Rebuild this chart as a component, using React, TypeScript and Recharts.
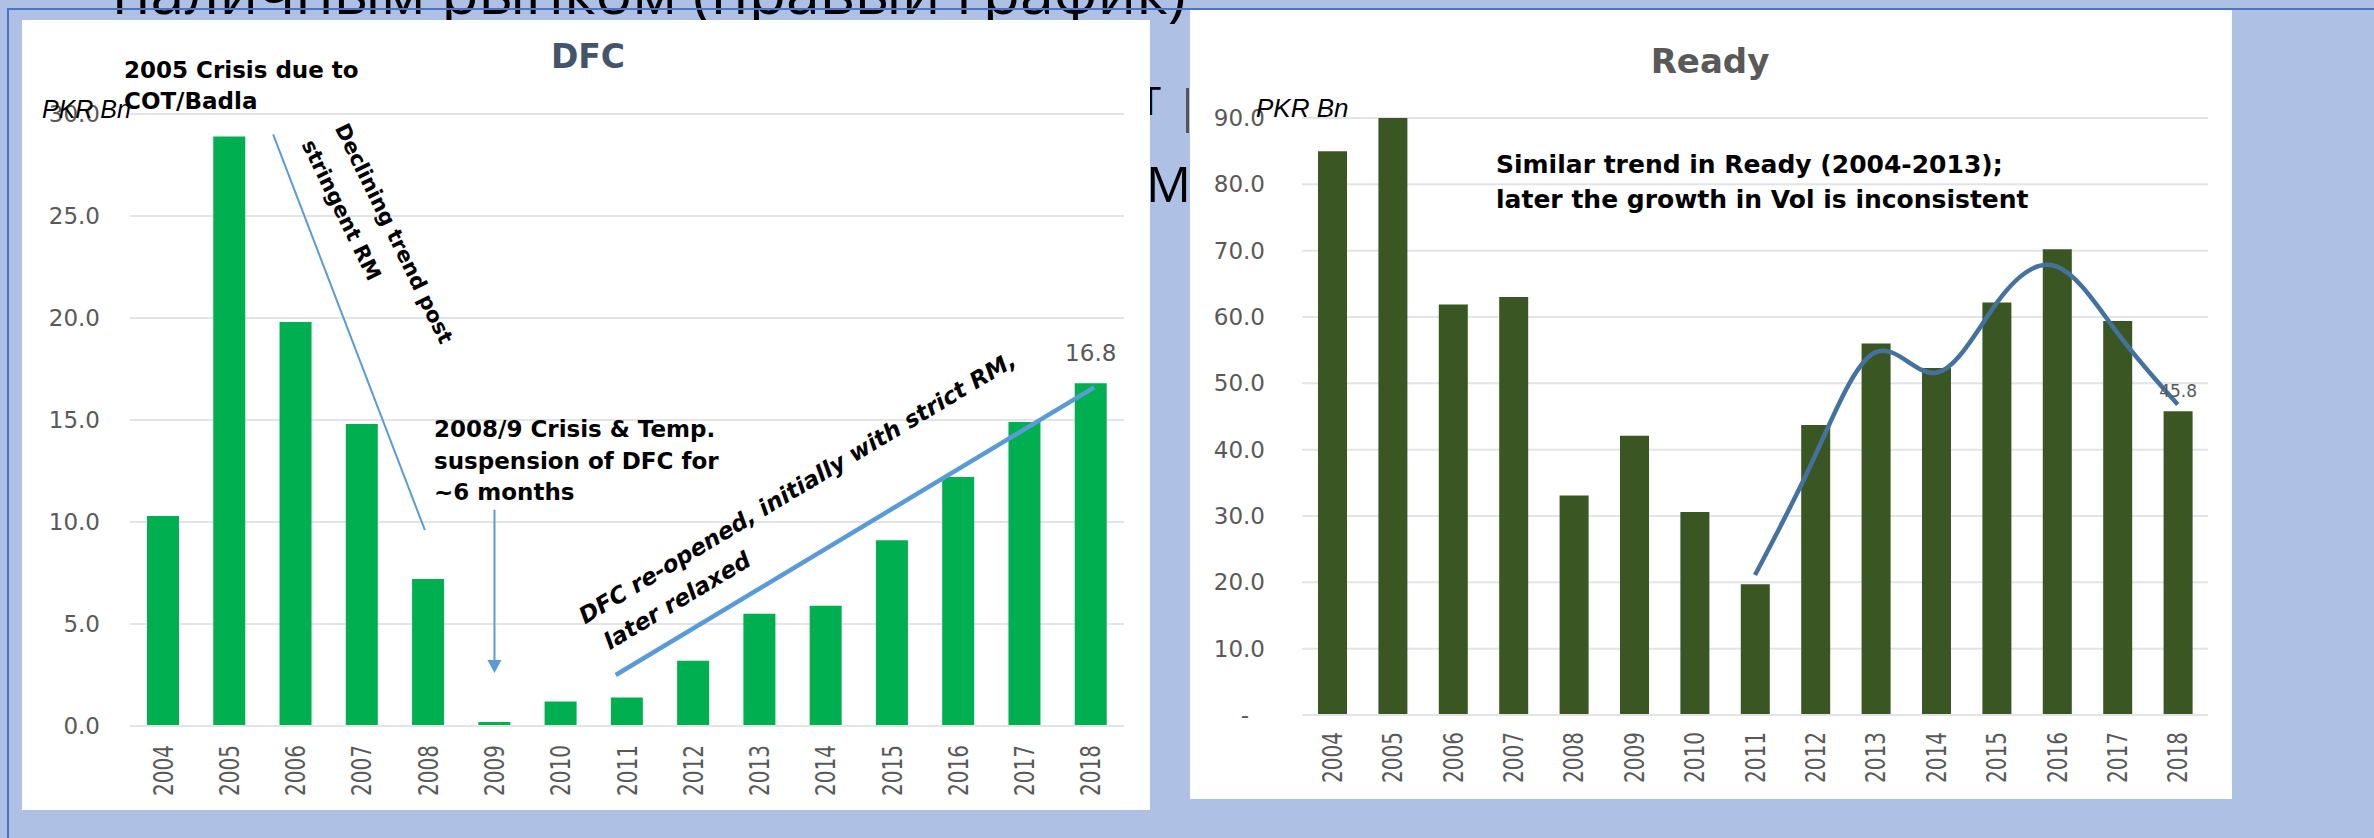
import React from "react";
import { ComposedChart, Bar, Line, XAxis, YAxis, CartesianGrid, ReferenceLine, LabelList } from "recharts";

const years = ["2004", "2005", "2006", "2007", "2008", "2009", "2010", "2011", "2012", "2013", "2014", "2015", "2016", "2017", "2018"];
const dfcVolume = [10.3, 28.9, 19.8, 14.8, 7.2, 0.2, 1.2, 1.4, 3.2, 5.5, 5.9, 9.1, 12.2, 14.9, 16.8];
const readyVolume = [85.0, 90.0, 61.9, 63.0, 33.1, 42.1, 30.6, 19.7, 43.7, 56.0, 52.3, 62.2, 70.2, 59.4, 45.8];
// hand drawn trend curve on the Ready chart (2011 onwards)
const readyTrend = [null, null, null, null, null, null, null, 21.1, 39.2, 54.7, 51.6, 62.1, 67.6, 57.6, 46.8];
const dfcTicks = [0, 5, 10, 15, 20, 25, 30];
const readyTicks = [0, 10, 20, 30, 40, 50, 60, 70, 80, 90];

// annotation strokes, x in category slots counted from the left edge of the plot
const declineLine = [{ x: 2.16, y: 29.0 }, { x: 4.45, y: 9.6 }];
const suspensionArrow = [{ x: 5.5, y: 10.6 }, { x: 5.5, y: 2.6 }];
const reopenLine = [{ x: 7.33, y: 2.5 }, { x: 14.55, y: 16.6 }];

const dfcData = years.map((year, i) => ({
  year,
  slot: i + 0.5,
  volume: dfcVolume[i],
  label: i === years.length - 1 ? dfcVolume[i] : null,
}));
const readyData = years.map((year, i) => ({
  year,
  volume: readyVolume[i],
  trend: readyTrend[i],
  label: i === years.length - 1 ? readyVolume[i] : null,
}));

const GRAY = "#595959";
const GRID = "#E2E4E8";
const TICK_FONT = '"DejaVu Sans", sans-serif';

const YearTick = (props: any) => {
  const { x, y, payload } = props;
  return (
    <g transform={`translate(${x},${y})`}>
      <text
        transform="rotate(-90) scale(1,1.3)"
        textAnchor="end"
        dominantBaseline="central"
        fill={GRAY}
        fontSize={20}
        fontFamily={TICK_FONT}
      >
        {payload.value}
      </text>
    </g>
  );
};

const ReadyYTick = (props: any) => {
  const { x, y, payload } = props;
  const zero = payload.value === 0;
  return (
    <text x={zero ? x - 16 : x} y={y} textAnchor="end" dominantBaseline="central" fill={GRAY} fontSize={23} fontFamily={TICK_FONT}>
      {zero ? "-" : payload.value.toFixed(1)}
    </text>
  );
};

const ArrowShape = (props: any) => {
  const { x1, y1, x2, y2, stroke } = props;
  if (x1 == null || y2 == null) return <g />;
  const head = 13;
  return (
    <g>
      <line x1={x1} y1={y1} x2={x2} y2={y2 - head} stroke={stroke} strokeWidth={2} />
      <polygon points={`${x2 - 7},${y2 - head} ${x2 + 7},${y2 - head} ${x2},${y2}`} fill={stroke} />
    </g>
  );
};

const topLabel = (offset: number, size: number) => (p: any) => {
  if (p.value == null) return null;
  return (
    <text x={p.x + p.width / 2} y={p.y - offset} textAnchor="middle" fill={GRAY} fontSize={size} fontFamily={TICK_FONT}>
      {Number(p.value).toFixed(1)}
    </text>
  );
};

const note: React.CSSProperties = {
  position: "absolute",
  fontFamily: '"DejaVu Sans", sans-serif',
  fontWeight: 700,
  color: "#000",
  whiteSpace: "nowrap",
};

const unitStyle: React.CSSProperties = {
  position: "absolute",
  fontFamily: '"Liberation Sans", Arial, sans-serif',
  fontStyle: "italic",
  color: "#000",
  whiteSpace: "nowrap",
};

const slideFont: React.CSSProperties = {
  position: "absolute",
  fontFamily: '"Open Sans", sans-serif',
  fontWeight: 400,
  color: "#000",
  whiteSpace: "nowrap",
};

export default function App() {
  return (
    <div
      style={{
        position: "absolute",
        left: 0,
        top: 0,
        width: 2374,
        height: 838,
        overflow: "hidden",
        background: "#AEC0E4",
      }}
    >
      {/* slide text behind the charts */}
      <div style={{ ...slideFont, left: 112, top: -40, fontSize: 61, lineHeight: "62px" }}>
        наличным рынком (правый график)
      </div>
      <div style={{ ...slideFont, left: 1140, top: 74, fontSize: 38 }}>Т</div>
      <div style={{ position: "absolute", left: 1186, top: 88, width: 3, height: 45, background: "#555" }} />
      <div style={{ ...slideFont, left: 1146, top: 149, fontSize: 50 }}>М</div>
      <div style={{ position: "absolute", left: 8, top: 8, width: 2366, height: 2, background: "#4A74C8" }} />
      <div style={{ position: "absolute", left: 7, top: 8, width: 2, height: 830, background: "#4A74C8" }} />

      {/* DFC */}
      <div style={{ position: "absolute", left: 22, top: 20, width: 1128, height: 790, background: "#fff" }}>
        <ComposedChart width={1128} height={790} data={dfcData} margin={{ top: 94, right: 26, bottom: 0, left: 0 }}>
          <CartesianGrid vertical={false} stroke={GRID} strokeWidth={2} />
          <XAxis
            dataKey="year"
            interval={0}
            height={84}
            tickLine={false}
            tickSize={0}
            tickMargin={19}
            axisLine={{ stroke: GRID, strokeWidth: 2 }}
            tick={<YearTick />}
          />
          <XAxis xAxisId="n" dataKey="slot" type="number" domain={[0, 15]} allowDataOverflow hide />
          <YAxis
            width={108}
            domain={[0, 30]}
            ticks={dfcTicks}
            interval={0}
            axisLine={false}
            tickLine={false}
            tickSize={0}
            tickMargin={30}
            tickFormatter={(v: number) => v.toFixed(1)}
            tick={{ fill: GRAY, fontSize: 23, fontFamily: TICK_FONT }}
          />
          <Bar dataKey="volume" fill="#00B050" barSize={32} isAnimationActive={false}>
            <LabelList dataKey="label" content={topLabel(22, 23)} />
          </Bar>
          <ReferenceLine xAxisId="n" segment={declineLine} stroke="#5B9BD5" strokeWidth={2} ifOverflow="visible" />
          <ReferenceLine xAxisId="n" segment={suspensionArrow} stroke="#5B9BD5" strokeWidth={2} ifOverflow="visible" shape={ArrowShape} />
          <ReferenceLine xAxisId="n" segment={reopenLine} stroke="#5B9BD5" strokeWidth={4.5} ifOverflow="visible" />
        </ComposedChart>
      </div>

      {/* Ready */}
      <div style={{ position: "absolute", left: 1190, top: 10, width: 1042, height: 789, background: "#fff" }}>
        <ComposedChart width={1042} height={789} data={readyData} margin={{ top: 108, right: 24, bottom: 0, left: 0 }}>
          <CartesianGrid vertical={false} stroke={GRID} strokeWidth={2} />
          <XAxis
            dataKey="year"
            interval={0}
            height={84}
            tickLine={false}
            tickSize={0}
            tickMargin={17}
            axisLine={{ stroke: GRID, strokeWidth: 2 }}
            tick={<YearTick />}
          />
          <YAxis
            width={112}
            domain={[0, 90]}
            ticks={readyTicks}
            interval={0}
            axisLine={false}
            tickLine={false}
            tickSize={0}
            tickMargin={37}
            tick={<ReadyYTick />}
          />
          <Bar dataKey="volume" fill="#3A5623" barSize={29} isAnimationActive={false}>
            <LabelList dataKey="label" content={topLabel(14, 17)} />
          </Bar>
          <Line
            dataKey="trend"
            type="natural"
            stroke="#44729F"
            strokeWidth={4.5}
            dot={false}
            activeDot={false}
            connectNulls={false}
            isAnimationActive={false}
          />
        </ComposedChart>
      </div>

      {/* titles and notes */}
      <div style={{ ...note, left: 488, top: 37, width: 200, textAlign: "center", fontSize: 33, lineHeight: "40px", color: "#44546A" }}>DFC</div>
      <div style={{ ...note, left: 1610, top: 41, width: 200, textAlign: "center", fontSize: 34, lineHeight: "40px", color: GRAY }}>Ready</div>

      <div style={{ ...unitStyle, left: 42, top: 97, fontSize: 25, lineHeight: "25px" }}>PKR Bn</div>
      <div style={{ ...unitStyle, left: 1256, top: 95, fontSize: 26, lineHeight: "26px" }}>PKR Bn</div>

      <div style={{ ...note, left: 124, top: 55, fontSize: 23, lineHeight: "31px" }}>
        2005 Crisis due to
        <br />
        COT/Badla
      </div>
      <div style={{ ...note, left: 434, top: 414, fontSize: 23, lineHeight: "31.5px" }}>
        2008/9 Crisis &amp; Temp.
        <br />
        suspension of DFC for
        <br />
        ~6 months
      </div>
      <div style={{ ...note, left: 357, top: 117, fontSize: 21, lineHeight: "37px", transform: "rotate(64deg)", transformOrigin: "0 0" }}>
        Declining trend post
        <br />
        stringent RM
      </div>
      <div
        style={{
          ...note,
          left: 572,
          top: 603,
          fontSize: 23,
          fontStyle: "italic",
          lineHeight: "35px",
          transform: "rotate(-31deg)",
          transformOrigin: "0 0",
        }}
      >
        DFC re-opened, initially with strict RM,
        <br />
        <span style={{ paddingLeft: 8 }}>later relaxed</span>
      </div>
      <div style={{ ...note, left: 1496, top: 147, fontSize: 25, lineHeight: "35px" }}>
        Similar trend in Ready (2004-2013);
        <br />
        later the growth in Vol is inconsistent
      </div>
    </div>
  );
}
